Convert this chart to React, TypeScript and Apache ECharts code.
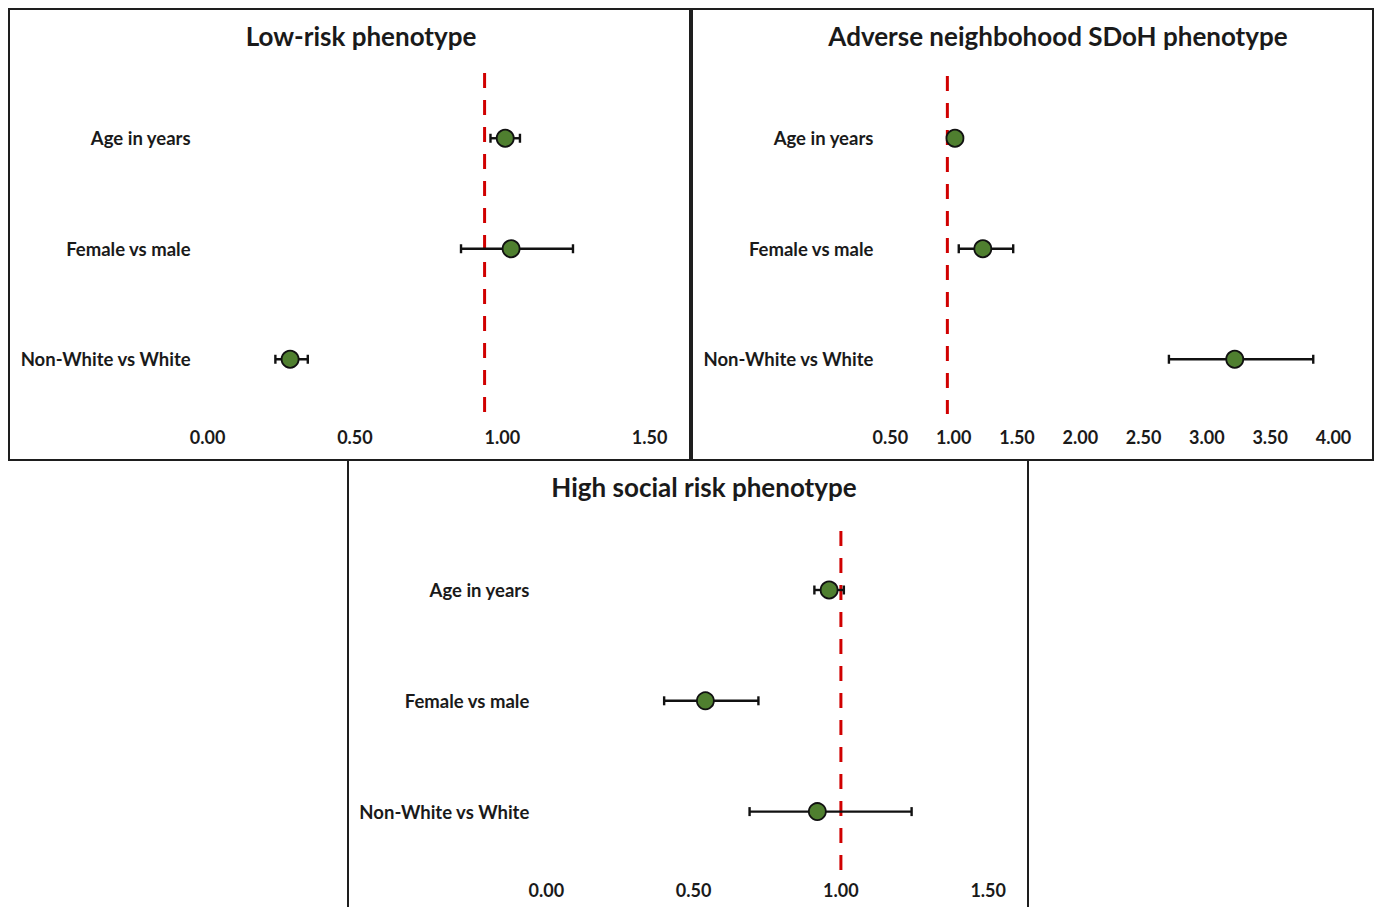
import React, { useEffect, useRef } from "react";
import * as echarts from "echarts";

const categories = ["Age in years", "Female vs male", "Non-White vs White"];

const panelTitles = [
  "Low-risk phenotype",
  "Adverse neighbohood SDoH phenotype",
  "High social risk phenotype",
];

// odds ratios and confidence limits
const lowRiskOR = [1.01, 1.03, 0.28];
const lowRiskLo = [0.96, 0.86, 0.23];
const lowRiskHi = [1.06, 1.24, 0.34];

const adverseOR = [1.01, 1.23, 3.22];
const adverseLo = [1.0, 1.04, 2.7];
const adverseHi = [1.02, 1.47, 3.84];

const highSocialOR = [0.96, 0.54, 0.92];
const highSocialLo = [0.91, 0.4, 0.69];
const highSocialHi = [1.01, 0.72, 1.24];

// where the dashed reference line sits in each panel
const refLineValues = [0.94, 0.95, 1.0];

// x-axis ranges
const axisMin = [0, 0.5, 0];
const axisMax = [1.5, 4.0, 1.5];
const axisStep = [0.5, 0.5, 0.5];

const FONT = "Lato, 'Open Sans', sans-serif";
const TEXT = "#1a1a1a";
const GREEN = "#4f7f2f";
const RED = "#d00000";

export default function App() {
  const ref = useRef<HTMLDivElement>(null);

  useEffect(() => {
    if (!ref.current) return;
    const chart = echarts.init(ref.current, undefined, { renderer: "svg" });

    const ors = [lowRiskOR, adverseOR, highSocialOR];
    const los = [lowRiskLo, adverseLo, highSocialLo];
    const his = [lowRiskHi, adverseHi, highSocialHi];

    const layout = [
      { left: 207.6, width: 442, top: 83, height: 331.5, refTop: 62, refBottom: 412, xMargin: 13.5, dashOffset: 16 },
      { left: 890.4, width: 443.1, top: 83, height: 331.5, refTop: 65, refBottom: 414, xMargin: 13.5, dashOffset: 16 },
      { left: 546.3, width: 441.9, top: 534.6, height: 332.4, refTop: 531, refBottom: 870, xMargin: 14, dashOffset: 0 },
    ];

    const grid: any[] = [];
    const xAxis: any[] = [];
    const yAxis: any[] = [];
    const series: any[] = [];

    layout.forEach((L, p) => {
      const gA = grid.length;
      grid.push({ left: L.left, width: L.width, top: L.top, height: L.height, containLabel: false });
      grid.push({ left: L.left, width: L.width, top: L.refTop, height: L.refBottom - L.refTop, containLabel: false });

      xAxis.push({
        type: "value",
        gridIndex: gA,
        min: axisMin[p],
        max: axisMax[p],
        interval: axisStep[p],
        axisLine: { show: false },
        axisTick: { show: false },
        splitLine: { show: false },
        axisLabel: {
          margin: L.xMargin,
          fontFamily: FONT,
          fontWeight: "bold",
          fontSize: 18,
          color: TEXT,
          formatter: (v: number) => v.toFixed(2),
        },
      });
      xAxis.push({
        type: "value",
        gridIndex: gA + 1,
        min: axisMin[p],
        max: axisMax[p],
        show: false,
      });
      yAxis.push({
        type: "category",
        gridIndex: gA,
        data: categories,
        inverse: true,
        axisLine: { show: false },
        axisTick: { show: false },
        splitLine: { show: false },
        axisLabel: {
          margin: 17,
          fontFamily: FONT,
          fontWeight: "bold",
          fontSize: 18.5,
          color: TEXT,
        },
      });
      yAxis.push({ type: "value", gridIndex: gA + 1, min: 0, max: 1, show: false });

      // dashed reference line
      series.push({
        type: "line",
        xAxisIndex: gA + 1,
        yAxisIndex: gA + 1,
        data: [
          [refLineValues[p], 1],
          [refLineValues[p], 0],
        ],
        symbol: "none",
        z: 1,
        lineStyle: { color: RED, width: 3, type: [15, 12], dashOffset: L.dashOffset },
      });

      // error bars
      series.push({
        type: "custom",
        xAxisIndex: gA,
        yAxisIndex: gA,
        z: 2,
        encode: { x: [0, 1], y: 2 },
        data: categories.map((_, i) => [los[p][i], his[p][i], i]),
        renderItem: (params: any, api: any) => {
          const lo = api.coord([api.value(0), api.value(2)]);
          const hi = api.coord([api.value(1), api.value(2)]);
          const cap = 4.5;
          const style = { stroke: "#111", lineWidth: 2.4, fill: null };
          return {
            type: "group",
            children: [
              { type: "line", shape: { x1: lo[0], y1: lo[1], x2: hi[0], y2: hi[1] }, style },
              { type: "line", shape: { x1: lo[0], y1: lo[1] - cap, x2: lo[0], y2: lo[1] + cap }, style },
              { type: "line", shape: { x1: hi[0], y1: hi[1] - cap, x2: hi[0], y2: hi[1] + cap }, style },
            ],
          };
        },
      });

      // point estimates
      series.push({
        type: "scatter",
        xAxisIndex: gA,
        yAxisIndex: gA,
        z: 3,
        symbol: "circle",
        symbolSize: 17,
        itemStyle: { color: GREEN, opacity: 1, borderColor: "#111", borderWidth: 1.8 },
        data: categories.map((_, i) => [ors[p][i], i]),
      });
    });

    const borderStyle = { fill: "none", stroke: "#1e1e1e", lineWidth: 2 };
    const titleStyle = (x: number, y: number, text: string) => ({
      type: "text",
      x,
      y,
      style: {
        text,
        fontFamily: FONT,
        fontWeight: "bold",
        fontSize: 26,
        fill: TEXT,
        align: "center",
        verticalAlign: "middle",
      },
    });

    chart.setOption({
      animation: false,
      backgroundColor: "#ffffff",
      grid,
      xAxis,
      yAxis,
      series,
      graphic: [
        { type: "rect", shape: { x: 9, y: 9, width: 681, height: 451 }, style: borderStyle, silent: true },
        { type: "rect", shape: { x: 692, y: 9, width: 681, height: 451 }, style: borderStyle, silent: true },
        { type: "rect", shape: { x: 348, y: 460, width: 680, height: 470 }, style: borderStyle, silent: true },
        titleStyle(361, 36, panelTitles[0]),
        titleStyle(1058, 36, panelTitles[1]),
        titleStyle(704, 487, panelTitles[2]),
      ],
    });

    return () => chart.dispose();
  }, []);

  return (
    <div
      ref={ref}
      style={{ position: "absolute", left: 0, top: 0, width: 1376, height: 907 }}
    />
  );
}
